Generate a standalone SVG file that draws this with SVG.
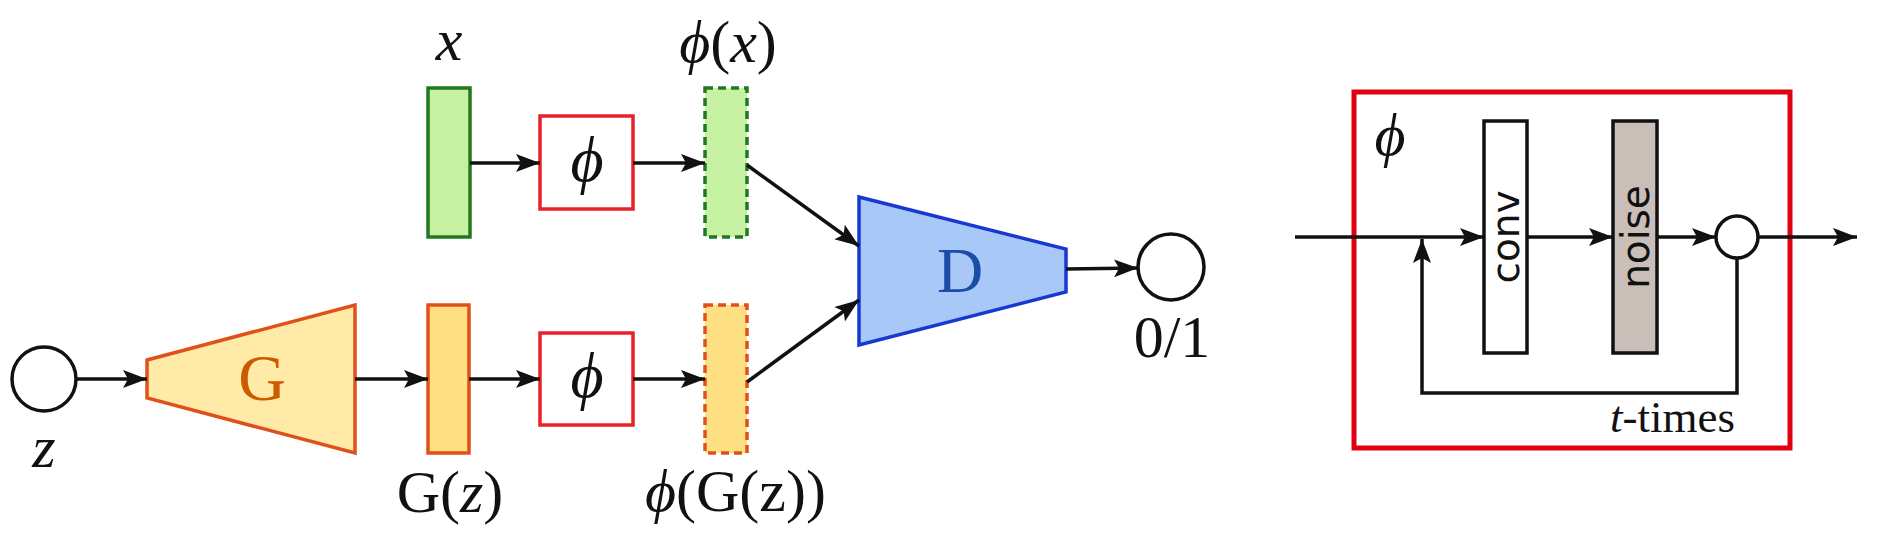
<svg xmlns="http://www.w3.org/2000/svg" width="1879" height="545" viewBox="0 0 1879 545">
<defs>
<marker id="ah" markerUnits="userSpaceOnUse" markerWidth="26" markerHeight="20" refX="24" refY="10" orient="auto">
<path d="M0,1 L24,10 L0,19 L5,10 z" fill="#111"/>
</marker>
<style>
.lbl{font-family:"Liberation Serif","DejaVu Serif",serif;font-size:60px;fill:#111;}
.it{font-style:italic;}
.sans{font-family:"DejaVu Sans","Liberation Sans",sans-serif;font-size:39px;fill:#111;}
.con{fill:none;stroke:#111;stroke-width:3.5;}
.arr{marker-end:url(#ah);}
.circ{fill:#fff;stroke:#111;stroke-width:3.5;}
.phibox{fill:#fff;stroke:#e8202a;stroke-width:3.5;}
.green{fill:#c6f0a2;stroke:#1f7a1f;stroke-width:3.5;}
.yellow{fill:#fee082;stroke:#e0501a;stroke-width:3.5;}
.dash{stroke-dasharray:8 5;}
.blk{stroke:#111;stroke-width:3.5;}
</style>
</defs>

<g id="node-z">
<circle class="circ" cx="44" cy="379" r="32"/>
<text class="lbl it" x="44" y="467" text-anchor="middle">z</text>
</g>

<g id="node-G">
<polygon points="147,360 355,305 355,453 147,398" fill="#ffeaa8" stroke="#e0501a" stroke-width="3.5"/>
<text x="262" y="400" text-anchor="middle" style="font-family:'Liberation Serif','DejaVu Serif',serif;font-size:66px;fill:#cc5a00;">G</text>
</g>

<g id="node-Gz">
<rect class="yellow" x="428" y="305" width="41" height="148"/>
<text class="lbl" x="450" y="512" text-anchor="middle">G(<tspan class="it">z</tspan>)</text>
</g>

<g id="node-x">
<rect class="green" x="428" y="88" width="42" height="149"/>
<text class="lbl it" x="449" y="60" text-anchor="middle">x</text>
</g>

<g id="node-phi1">
<rect class="phibox" x="540" y="116" width="93" height="93"/>
<text class="lbl it" x="587" y="181" text-anchor="middle" style="font-size:64px">ϕ</text>
</g>

<g id="node-phi2">
<rect class="phibox" x="540" y="333" width="93" height="92"/>
<text class="lbl it" x="587" y="397" text-anchor="middle" style="font-size:64px">ϕ</text>
</g>

<g id="node-phix">
<rect class="green dash" x="705" y="88" width="42" height="149"/>
<text class="lbl" x="728" y="62" text-anchor="middle"><tspan class="it">ϕ</tspan>(<tspan class="it">x</tspan>)</text>
</g>

<g id="node-phiGz">
<rect class="yellow dash" x="705" y="305" width="42" height="148"/>
<text class="lbl" x="645" y="511"><tspan class="it">ϕ</tspan>(G(z))</text>
</g>

<g id="node-D">
<polygon points="859,197 1066,249 1066,292 859,345" fill="#a8c8f8" stroke="#1838d0" stroke-width="3.5"/>
<text x="960" y="292" text-anchor="middle" style="font-family:'Liberation Serif','DejaVu Serif',serif;font-size:64px;fill:#1a4ca8;">D</text>
</g>

<g id="node-out">
<circle class="circ" cx="1171" cy="267" r="33"/>
<text class="lbl" x="1172" y="357" text-anchor="middle">0/1</text>
</g>

<g id="node-phiblock">
<rect x="1354" y="92" width="436" height="356" fill="none" stroke="#e00012" stroke-width="5"/>
<text class="lbl it" x="1390" y="155" text-anchor="middle">ϕ</text>
<text class="lbl" x="1735" y="432" text-anchor="end" style="font-size:45px"><tspan class="it">t</tspan>-times</text>
</g>

<g id="node-conv">
<rect x="1484" y="121" width="43" height="232" fill="#fff" class="blk"/>
<text class="sans" transform="translate(1519,237) rotate(-90)" text-anchor="middle">conv</text>
</g>

<g id="node-noise">
<rect x="1613" y="121" width="44" height="232" fill="#c9beb8" class="blk"/>
<text class="sans" transform="translate(1649,237) rotate(-90)" text-anchor="middle">noise</text>
</g>

<g id="node-sum">
<circle class="circ" cx="1737" cy="237" r="21"/>
</g>

<g id="connectors">
<line class="con arr" x1="76" y1="379" x2="147" y2="379"/>
<line class="con arr" x1="355" y1="379" x2="428" y2="379"/>
<line class="con arr" x1="469" y1="379" x2="540" y2="379"/>
<line class="con arr" x1="633" y1="379" x2="705" y2="379"/>
<line class="con arr" x1="470" y1="163" x2="540" y2="163"/>
<line class="con arr" x1="633" y1="163" x2="705" y2="163"/>
<line class="con arr" x1="747" y1="165" x2="859" y2="246"/>
<line class="con arr" x1="747" y1="382" x2="859" y2="300"/>
<line class="con arr" x1="1066" y1="269" x2="1138" y2="268"/>
<line class="con arr" x1="1295" y1="237" x2="1484" y2="237"/>
<line class="con arr" x1="1527" y1="237" x2="1613" y2="237"/>
<line class="con arr" x1="1657" y1="237" x2="1716" y2="237"/>
<line class="con arr" x1="1758" y1="237" x2="1857" y2="237"/>
<polyline class="con arr" points="1737,258 1737,393 1422,393 1422,239"/>
</g>
</svg>
